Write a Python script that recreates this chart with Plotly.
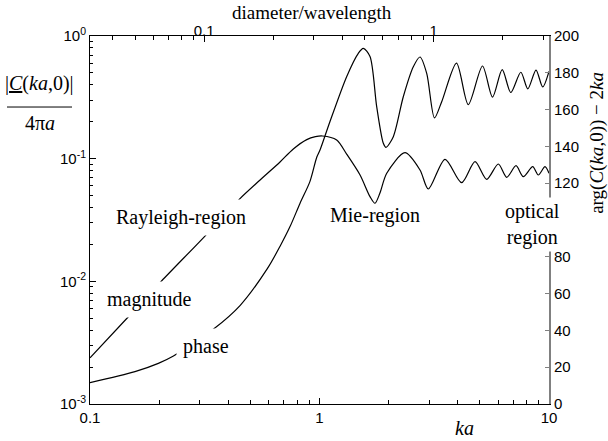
import math
import plotly.graph_objects as go

# ---- data ----
mag_ka = [0.1, 0.148, 0.205, 0.317, 0.447, 0.551, 0.673, 0.769, 0.880, 0.96, 1.03,
          1.188, 1.313, 1.502, 1.66, 1.745, 1.832, 1.963, 2.358, 2.741, 2.98, 3.523,
          4.165, 4.760, 5.352, 6.013, 6.543, 7.183, 7.727, 8.492, 8.982, 9.607, 10.0]
mag_val = [0.00238, 0.00522, 0.01006, 0.0234, 0.0466, 0.067, 0.094, 0.12, 0.143, 0.151, 0.153,
           0.142, 0.109, 0.0736, 0.049, 0.0433, 0.0522, 0.076, 0.1118, 0.0808, 0.0566, 0.0988,
           0.0637, 0.0945, 0.0679, 0.0905, 0.0705, 0.0876, 0.0713, 0.086, 0.0736, 0.086, 0.076]

ph_ka = [0.1, 0.157, 0.1985, 0.231, 0.3445, 0.4505, 0.5935, 0.675, 0.744, 0.822, 0.909,
         0.972, 1.005, 1.111, 1.313, 1.476, 1.552, 1.66, 1.775, 1.897, 1.949, 2.097, 2.318,
         2.563, 2.741, 2.932, 3.17, 3.408, 3.954, 4.45, 5.131, 5.673, 6.254, 6.817, 7.537,
         8.085, 8.777, 9.387, 10.0]
ph_deg = [11.6, 17.6, 22.1, 26.1, 40.6, 53.5, 73.7, 86, 96.4, 109, 121,
          134, 138, 153.5, 177.9, 190.6, 193.3, 188.8, 161.6, 141.7, 139.5, 145.3, 167,
          183.3, 188.6, 179.7, 155.5, 164.3, 185.3, 162.7, 183.7, 166.8, 181.7, 169.3, 180.3,
          171.3, 181.5, 172.3, 180.8]

x_ticks = [0.1, 1, 10]
x_ticktext = ["0.1", "1", "10"]
x_minor = [0.2, 0.3, 0.4, 0.5, 0.6, 0.7, 0.8, 0.9, 2, 3, 4, 5, 6, 7, 8, 9]
top_ticks = [0.1, 1]
top_ticktext = ["0.1", "1"]
top_minor = [0.04, 0.05, 0.06, 0.07, 0.08, 0.09, 0.2, 0.3, 0.4, 0.5, 0.6, 0.7, 0.8, 0.9, 2, 3]
yl_ticks = [0.001, 0.01, 0.1, 1]
yl_ticktext = ["10<sup>-3</sup>", "10<sup>-2</sup>", "10<sup>-1</sup>", "10<sup>0</sup>"]
yl_minor = [m * 10 ** e for e in (-3, -2, -1) for m in range(2, 10)]
yr_ticks = [0, 20, 40, 60, 80, 120, 140, 160, 180, 200]

SERIF = "Liberation Serif"
SANS = "Liberation Sans"

fig = go.Figure()
fig.add_trace(go.Scatter(x=mag_ka, y=mag_val, mode="lines", line=dict(color="black", width=1.2, shape="spline", smoothing=0.8),
                         xaxis="x", yaxis="y", hoverinfo="skip", showlegend=False))
fig.add_trace(go.Scatter(x=ph_ka, y=ph_deg, mode="lines", line=dict(color="black", width=1.2, shape="spline", smoothing=0.8),
                         xaxis="x", yaxis="y2", hoverinfo="skip", showlegend=False))
# carrier for the top axis (diameter/wavelength = ka/pi)
fig.add_trace(go.Scatter(x=[k / math.pi for k in mag_ka], y=mag_val, mode="lines", line=dict(width=0, color="rgba(0,0,0,0)"),
                         xaxis="x2", yaxis="y", hoverinfo="skip", showlegend=False))

common = dict(showgrid=False, zeroline=False, showline=True, linewidth=1, ticks="inside",
              tickfont=dict(family=SANS, size=15, color="black"))

fig.update_layout(
    width=608, height=441, margin=dict(l=90, r=59, t=36, b=37),
    paper_bgcolor="white", plot_bgcolor="white",
    xaxis=dict(type="log", range=[-1, 1], tickmode="array", tickvals=x_ticks, ticktext=x_ticktext,
               linecolor="black", tickcolor="black", ticklen=6,
               minor=dict(tickmode="array", tickvals=x_minor, ticks="inside", ticklen=4, tickcolor="black"),
               **common),
    xaxis2=dict(type="log", overlaying="x", side="top", anchor="y",
                range=[math.log10(0.1 / math.pi), math.log10(10 / math.pi)],
                tickmode="array", tickvals=top_ticks, ticktext=top_ticktext,
                linecolor="black", tickcolor="black", ticklen=6, ticklabelstandoff=-7,
                minor=dict(tickmode="array", tickvals=top_minor, ticks="inside", ticklen=4, tickcolor="black"),
                **common),
    yaxis=dict(type="log", range=[-3, 0], tickmode="array", tickvals=yl_ticks, ticktext=yl_ticktext,
               linecolor="black", tickcolor="black", ticklen=6,
               minor=dict(tickmode="array", tickvals=yl_minor, ticks="inside", ticklen=3, tickcolor="black"),
               **common),
    yaxis2=dict(range=[0, 200], overlaying="y", side="right", anchor="x", tickmode="array", tickvals=yr_ticks,
                linecolor="#808080", linewidth=2, tickcolor="#808080", ticklen=4,
                showgrid=False, zeroline=False, showline=True, ticks="inside",
                tickfont=dict(family=SANS, size=15, color="black")),
)

def ann(text, x, y, size=20, bg=None, pad=6, angle=0):
    fig.add_annotation(text=text, x=x, y=y, xref="paper", yref="paper", showarrow=False,
                       font=dict(family=SERIF, size=size, color="black"),
                       bgcolor=bg if bg else "rgba(0,0,0,0)", borderpad=pad, textangle=angle,
                       xanchor="center", yanchor="middle")

ann("Rayleigh-region", 0.198, 0.508, bg="white")
ann("magnitude", 0.1296, 0.2853, bg="white")
ann("phase", 0.2527, 0.1549, bg="white")
ann("Mie-region", 0.621, 0.511)
ann("optical<br>region", 0.963, 0.487, bg="white", pad=2)
ann("diameter/wavelength", 0.4837, 1.064, size=19, pad=0)
ann("<i>ka</i>", 0.815, -0.0652)
ann("arg(<i>C</i>(<i>ka</i>,0)) \u2212 2<i>ka</i>", 1.104, 0.709, size=19, angle=-90, pad=0)
ann("|<u><i>C</i></u>(<i>ka</i>,0)|", -0.110, 0.872)
ann("4\u03c0<i>a</i>", -0.110, 0.7636)
fig.add_shape(type="line", xref="paper", yref="paper", x0=-0.1808, x1=-0.0392, y0=0.807, y1=0.807,
              line=dict(color="black", width=1))

fig.write_html("out.html")
